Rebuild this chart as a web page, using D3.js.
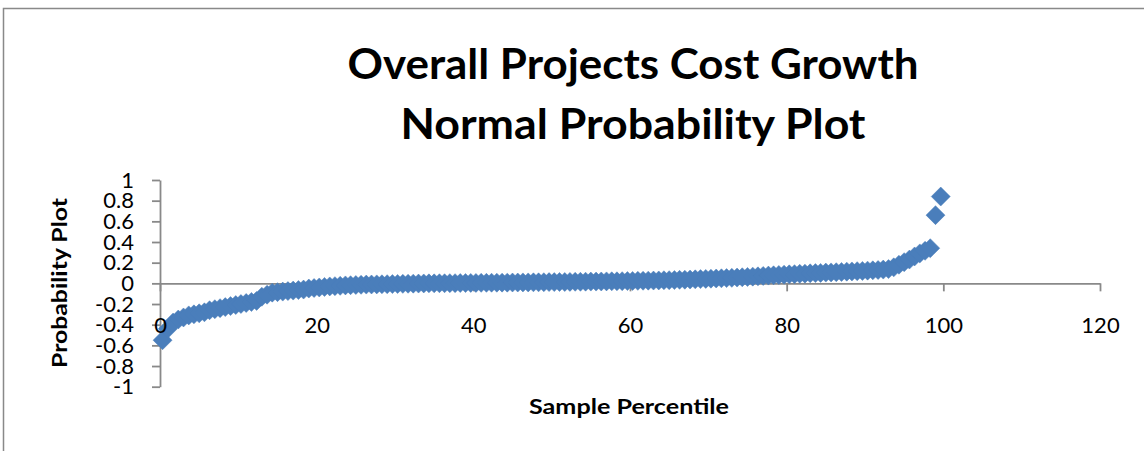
<!DOCTYPE html>
<html>
<head>
<meta charset="utf-8">
<script src="https://cdn.jsdelivr.net/npm/d3@7/dist/d3.min.js"></script>
<style>
  html, body { margin: 0; padding: 0; background: #ffffff; }
  svg { display: block; }
  text { font-family: Lato, "Open Sans", "Liberation Sans", sans-serif; fill: #000; }
</style>
</head>
<body>
<svg id="chart" width="1144" height="451"></svg>
<script>
// Sample percentile of each ranked project (x) and its cost growth (y)
const percentiles = [
  0.33, 1.00, 1.67, 2.33, 3.00, 3.67, 4.33, 5.00, 5.67, 6.33,
  7.00, 7.67, 8.33, 9.00, 9.67, 10.33, 11.00, 11.67, 12.33, 13.00,
  13.67, 14.33, 15.00, 15.67, 16.33, 17.00, 17.67, 18.33, 19.00, 19.67,
  20.33, 21.00, 21.67, 22.33, 23.00, 23.67, 24.33, 25.00, 25.67, 26.33,
  27.00, 27.67, 28.33, 29.00, 29.67, 30.33, 31.00, 31.67, 32.33, 33.00,
  33.67, 34.33, 35.00, 35.67, 36.33, 37.00, 37.67, 38.33, 39.00, 39.67,
  40.33, 41.00, 41.67, 42.33, 43.00, 43.67, 44.33, 45.00, 45.67, 46.33,
  47.00, 47.67, 48.33, 49.00, 49.67, 50.33, 51.00, 51.67, 52.33, 53.00,
  53.67, 54.33, 55.00, 55.67, 56.33, 57.00, 57.67, 58.33, 59.00, 59.67,
  60.33, 61.00, 61.67, 62.33, 63.00, 63.67, 64.33, 65.00, 65.67, 66.33,
  67.00, 67.67, 68.33, 69.00, 69.67, 70.33, 71.00, 71.67, 72.33, 73.00,
  73.67, 74.33, 75.00, 75.67, 76.33, 77.00, 77.67, 78.33, 79.00, 79.67,
  80.33, 81.00, 81.67, 82.33, 83.00, 83.67, 84.33, 85.00, 85.67, 86.33,
  87.00, 87.67, 88.33, 89.00, 89.67, 90.33, 91.00, 91.67, 92.33, 93.00,
  93.67, 94.33, 95.00, 95.67, 96.33, 97.00, 97.67, 98.33, 99.00, 99.67
];

const costGrowth = [
  -0.550, -0.440, -0.380, -0.350, -0.330, -0.310, -0.300, -0.290, -0.280, -0.260,
  -0.250, -0.240, -0.230, -0.220, -0.210, -0.200, -0.190, -0.180, -0.170, -0.130,
  -0.110, -0.090, -0.085, -0.080, -0.075, -0.070, -0.065, -0.060, -0.050, -0.045,
  -0.040, -0.035, -0.030, -0.027, -0.024, -0.020, -0.018, -0.016, -0.014, -0.012,
  -0.011, -0.010, -0.009, -0.008, -0.007, -0.006, -0.005, -0.004, -0.003, -0.002,
  -0.001, 0.000, 0.000, 0.001, 0.001, 0.002, 0.002, 0.003, 0.003, 0.004,
  0.004, 0.005, 0.005, 0.006, 0.006, 0.007, 0.007, 0.008, 0.008, 0.009,
  0.009, 0.010, 0.010, 0.011, 0.012, 0.012, 0.013, 0.013, 0.014, 0.015,
  0.015, 0.016, 0.017, 0.017, 0.018, 0.019, 0.020, 0.020, 0.021, 0.022,
  0.023, 0.024, 0.025, 0.026, 0.027, 0.028, 0.030, 0.031, 0.032, 0.034,
  0.035, 0.037, 0.039, 0.041, 0.043, 0.045, 0.047, 0.049, 0.051, 0.053,
  0.056, 0.059, 0.062, 0.065, 0.068, 0.072, 0.075, 0.078, 0.081, 0.084,
  0.087, 0.089, 0.092, 0.094, 0.097, 0.099, 0.101, 0.104, 0.106, 0.108,
  0.110, 0.113, 0.115, 0.118, 0.120, 0.123, 0.126, 0.129, 0.133, 0.138,
  0.155, 0.180, 0.205, 0.230, 0.260, 0.290, 0.315, 0.340, 0.660, 0.840
];

const xTicks = [0, 20, 40, 60, 80, 100, 120];
const yTicks = [-1, -0.8, -0.6, -0.4, -0.2, 0, 0.2, 0.4, 0.6, 0.8, 1];
const yTickLabels = ["-1", "-0.8", "-0.6", "-0.4", "-0.2", "0", "0.2", "0.4", "0.6", "0.8", "1"];
const titleLines = ["Overall Projects Cost Growth", "Normal Probability Plot"];
const xTitle = "Sample Percentile";
const yTitle = "Probability Plot";

const points = percentiles.map((p, i) => ({ p, v: costGrowth[i] }));

const svg = d3.select("#chart");
const axisColor = "#898989";
const markerColor = "#4a7ebb";

// Outer chart frame (top and left edges)
svg.append("path")
  .attr("d", "M3.5,451 L3.5,8.5 L1144,8.5")
  .attr("fill", "none")
  .attr("stroke", axisColor)
  .attr("stroke-width", 1.5);

const x = d3.scaleLinear().domain([0, 120]).range([160, 1100]);
const y = d3.scaleLinear().domain([-1, 1]).range([386.7, 180]);

// Title
svg.append("g").selectAll("text")
  .data(titleLines)
  .join("text")
  .attr("x", 633)
  .attr("y", (d, i) => 79 + i * 60)
  .attr("text-anchor", "middle")
  .attr("font-size", 42)
  .attr("font-weight", 700)
  .attr("textLength", (d, i) => i === 0 ? 571 : 465)
  .attr("lengthAdjust", "spacingAndGlyphs")
  .text(d => d);

// Axis lines and tick marks
const yAxisG = svg.append("g")
  .attr("transform", `translate(${x(0)},0)`)
  .call(d3.axisLeft(y).tickValues(yTicks).tickSize(8).tickSizeOuter(0).tickFormat(""));

const xAxisG = svg.append("g")
  .attr("transform", `translate(0,${y(0)})`)
  .call(d3.axisBottom(x).tickValues(xTicks).tickSize(8).tickSizeOuter(0).tickFormat(""));

[yAxisG, xAxisG].forEach(g => {
  g.selectAll("path.domain").attr("stroke", axisColor).attr("stroke-width", 1.8);
  g.selectAll(".tick line").attr("stroke", axisColor).attr("stroke-width", 1.8);
  g.selectAll(".tick text").remove();
});

// Diamond markers
const r = 9.5;
svg.append("g")
  .selectAll("path")
  .data(points)
  .join("path")
  .attr("transform", d => `translate(${x(d.p)},${y(d.v)})`)
  .attr("d", `M0,${-r}L${r},0L0,${r}L${-r},0Z`)
  .attr("fill", markerColor)
  .attr("stroke", markerColor)
  .attr("stroke-width", 0.5);

// Tick labels, drawn above the markers
const yLabelG = svg.append("g")
  .attr("transform", `translate(${x(0)},0)`)
  .call(d3.axisLeft(y).tickValues(yTicks).tickSize(0).tickPadding(26)
    .tickFormat((d, i) => yTickLabels[i]));
yLabelG.select("path.domain").remove();
yLabelG.selectAll(".tick text")
  .attr("font-size", 22)
  .attr("font-family", null)
  .attr("fill", "#000");

const xLabelG = svg.append("g")
  .attr("transform", `translate(0,${y(0)})`)
  .call(d3.axisBottom(x).tickValues(xTicks).tickSize(0).tickFormat(d3.format("d")));
xLabelG.select("path.domain").remove();
xLabelG.selectAll(".tick text")
  .attr("y", 50)
  .attr("dy", null)
  .attr("font-size", 22)
  .attr("font-family", null)
  .attr("fill", "#000");

svg.selectAll(".tick text").attr("font-family", null);
svg.selectAll("g").attr("font-family", null);

// Axis titles
svg.append("text")
  .attr("x", 629)
  .attr("y", 414)
  .attr("text-anchor", "middle")
  .attr("font-size", 20)
  .attr("font-weight", 700)
  .attr("textLength", 200)
  .attr("lengthAdjust", "spacingAndGlyphs")
  .text(xTitle);

svg.append("text")
  .attr("transform", "translate(67,283) rotate(-90)")
  .attr("text-anchor", "middle")
  .attr("font-size", 20)
  .attr("font-weight", 700)
  .attr("textLength", 170)
  .attr("lengthAdjust", "spacingAndGlyphs")
  .text(yTitle);
</script>
</body>
</html>
